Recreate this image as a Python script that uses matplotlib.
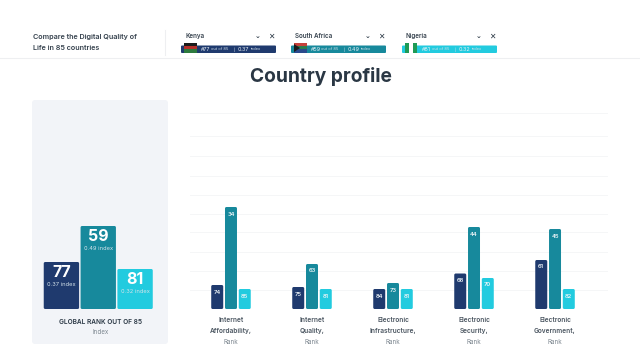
import matplotlib
matplotlib.use("Agg")
import matplotlib.pyplot as plt
from matplotlib.patches import FancyBboxPatch, Rectangle, Polygon
import numpy as np

plt.rcParams['font.family'] = ['Inter', 'DejaVu Sans']

W, H = 640, 364

NAVY = "#1f3a6e"
TEAL = "#17899c"
CYAN = "#22cbdf"
DARK = "#2a3744"
GREY = "#7d8790"

countries = ["Kenya", "South Africa", "Nigeria"]
country_ranks = [77, 59, 81]
country_index = ["0.37", "0.49", "0.32"]
country_colors = [NAVY, TEAL, CYAN]

# heights (the bars are not to scale with the rank labels)
overall_heights = [47, 83, 40]

categories = ["Internet\nAffordability,", "Internet\nQuality,",
              "Electronic\nInfrastructure,", "Electronic\nSecurity,",
              "Electronic\nGovernment,"]
kenya_heights = [24, 22, 20, 35.5, 49]
sa_heights = [102, 45, 26, 82, 80]
nigeria_heights = [20, 20, 20, 31, 20]
kenya_labels = ["74", "75", "84", "68", "61"]
sa_labels = ["34", "63", "73", "44", "45"]
nigeria_labels = ["85", "81", "81", "70", "82"]
grid_levels = [0, 19, 38, 57.5, 77, 95, 114, 133, 153, 173, 196]


def px_axes(fig, x0, y0, x1, y1):
    # axes from picture pixels, y counted from the top
    a = fig.add_axes([x0 / W, 1 - y1 / H, (x1 - x0) / W, (y1 - y0) / H])
    a.set_zorder(2)
    a.patch.set_alpha(0)
    return a


def round_bars(ax, bars, r=1.5):
    # swap the square bars for rounded ones, in pixel units
    for b in bars:
        bb = b.get_window_extent()
        b.set_visible(False)
        ax.add_patch(FancyBboxPatch((bb.x0 + r, bb.y0 + r), bb.width - 2 * r, bb.height - 2 * r,
                                    boxstyle="round,pad=%f,rounding_size=%f" % (r, r),
                                    transform=None, fc=b.get_facecolor(), ec="none", zorder=3))


def t(x, y, s, **kw):
    # figure text placed with picture pixels
    kw.setdefault("ha", "center")
    kw.setdefault("va", "center")
    kw.setdefault("zorder", 6)
    fig.text(x / W, 1 - y / H, s, **kw)


fig = plt.figure(figsize=(W / 100, H / 100), dpi=100, facecolor="white")

# header
fig.add_artist(plt.Line2D([0, 1], [1 - 58 / H] * 2, color="#eeeff1", lw=0.8))
fig.add_artist(plt.Line2D([164.5 / W] * 2, [1 - 30 / H, 1 - 55 / H], color="#eeeff1", lw=0.8))
t(33, 36.5, "Compare the Digital Quality of", fontsize=5.2, fontweight="semibold", color="#36424e", ha="left")
t(33, 48.5, "Life in 85 countries", fontsize=5.2, fontweight="semibold", color="#36424e", ha="left")
t(320.5, 76, "Country profile", fontsize=13.8, fontweight="bold", color=DARK)

chip_x = [181, 291, 402]
for i, name in enumerate(countries):
    x = chip_x[i]
    t(x + 4, 36, name, fontsize=4.5, fontweight="semibold", color="#36424e", ha="left")
    t(x + 77, 35.5, "⌄", fontsize=5, color=DARK, family=["DejaVu Sans"], fontweight="bold")
    t(x + 90.5, 36, "✕", fontsize=5.5, color=DARK, family=["DejaVu Sans"], fontweight="bold")
    fig.add_artist(FancyBboxPatch((x + 1, H - 52), 93, 5.5, boxstyle="round,pad=1,rounding_size=1",
                                  transform=None, fc=country_colors[i], ec="none"))
    t(x + 19.5, 49.5, "#%d" % country_ranks[i], fontsize=3.9, color="#e8f0f6", ha="left")
    t(x + 30, 49.5, "out of 85", fontsize=2.9, color="#cfdde8", ha="left")
    t(x + 53, 49.5, "|", fontsize=3, color="#cfdde8")
    t(x + 57, 49.5, country_index[i], fontsize=3.9, color="#e8f0f6", ha="left")
    t(x + 69.5, 49.5, "index", fontsize=2.9, color="#cfdde8", ha="left")

# small flags: stripes of colour
flag_stripes = [["#1b1b1b", "#b5302a", "#2d7a3e"], ["#c6413a", "#2c7d4d", "#2a4a8c"], None]
for i, stripes in enumerate(flag_stripes):
    x = chip_x[i] + 3
    if stripes:
        for j, c in enumerate(stripes):
            fig.add_artist(Rectangle((x, H - 43 - (j + 1) * 3.2), 13, 3.2, transform=None, fc=c, ec="none", zorder=4))
        if i == 1:
            fig.add_artist(Polygon([(x, H - 44), (x + 6, H - 48), (x, H - 52)], closed=True, transform=None,
                                   fc="#1b1b1b", ec="none", zorder=5))
    else:
        for j, c in enumerate(["#1f9a55", "white", "#1f9a55"]):
            fig.add_artist(Rectangle((x + j * 4, H - 53), 4, 10, transform=None, fc=c, ec="none", zorder=4))

# left panel
fig.add_artist(FancyBboxPatch((32 + 3, H - 344 + 3), 136 - 6, 244 - 6, boxstyle="round,pad=3,rounding_size=3",
                              transform=None, fc="#f2f4f8", ec="none", zorder=0))
ax0 = px_axes(fig, 43, 210, 153.5, 309)
ax0.set_axis_off()
ax0.set_xlim(-0.5, 2.5)
ax0.set_ylim(0, 99)
bars0 = ax0.bar(range(3), overall_heights, width=0.96, color=country_colors)
fig.canvas.draw()
round_bars(ax0, bars0)
for i, h in enumerate(overall_heights):
    ax0.text(i, h - 10.5, str(country_ranks[i]), ha="center", va="center", color="white",
             fontsize=11.5, fontweight="bold", zorder=6)
    ax0.text(i, h - 22.5, country_index[i] + " index", ha="center", va="center", color="#d5e3ea",
             fontsize=4.1, zorder=6)
t(100.5, 321.7, "GLOBAL RANK OUT OF 85", fontsize=4.7, fontweight="semibold", color=DARK)
t(100.5, 332, "Index", fontsize=4.5, color=GREY)

# main chart
ax = px_axes(fig, 190, 113, 608, 309)
ax.set_xlim(-0.506, 4.654)
ax.set_ylim(0, 196)
ax.set_yticks(grid_levels)
ax.grid(axis="y", color="#f5f6f7", lw=0.7)
ax.set_axisbelow(True)
ax.tick_params(left=False, bottom=False, labelleft=False, labelbottom=False)
for s in ax.spines.values():
    s.set_visible(False)

x = np.arange(len(categories))
series = [(kenya_heights, kenya_labels, NAVY, -0.17),
          (sa_heights, sa_labels, TEAL, 0),
          (nigeria_heights, nigeria_labels, CYAN, 0.17)]
fig.canvas.draw()
for heights, labels, color, off in series:
    bars = ax.bar(x + off, heights, width=0.148, color=color)
    round_bars(ax, bars)
    for xi, h, lab in zip(x + off, heights, labels):
        ax.text(xi, h - 7, lab, ha="center", va="center", color="#eef5f8", fontsize=4.2,
                fontweight="semibold", zorder=6)
for xi, cat in zip(x, categories):
    a, b = cat.split("\n")
    px = 231 + xi * 81
    t(px, 320.3, a, fontsize=4.7, fontweight="semibold", color="#4a5560")
    t(px, 331.3, b, fontsize=4.7, fontweight="semibold", color="#4a5560")
    t(px, 342, "Rank", fontsize=4.5, color=GREY)

fig.savefig("out.png", dpi=100)
